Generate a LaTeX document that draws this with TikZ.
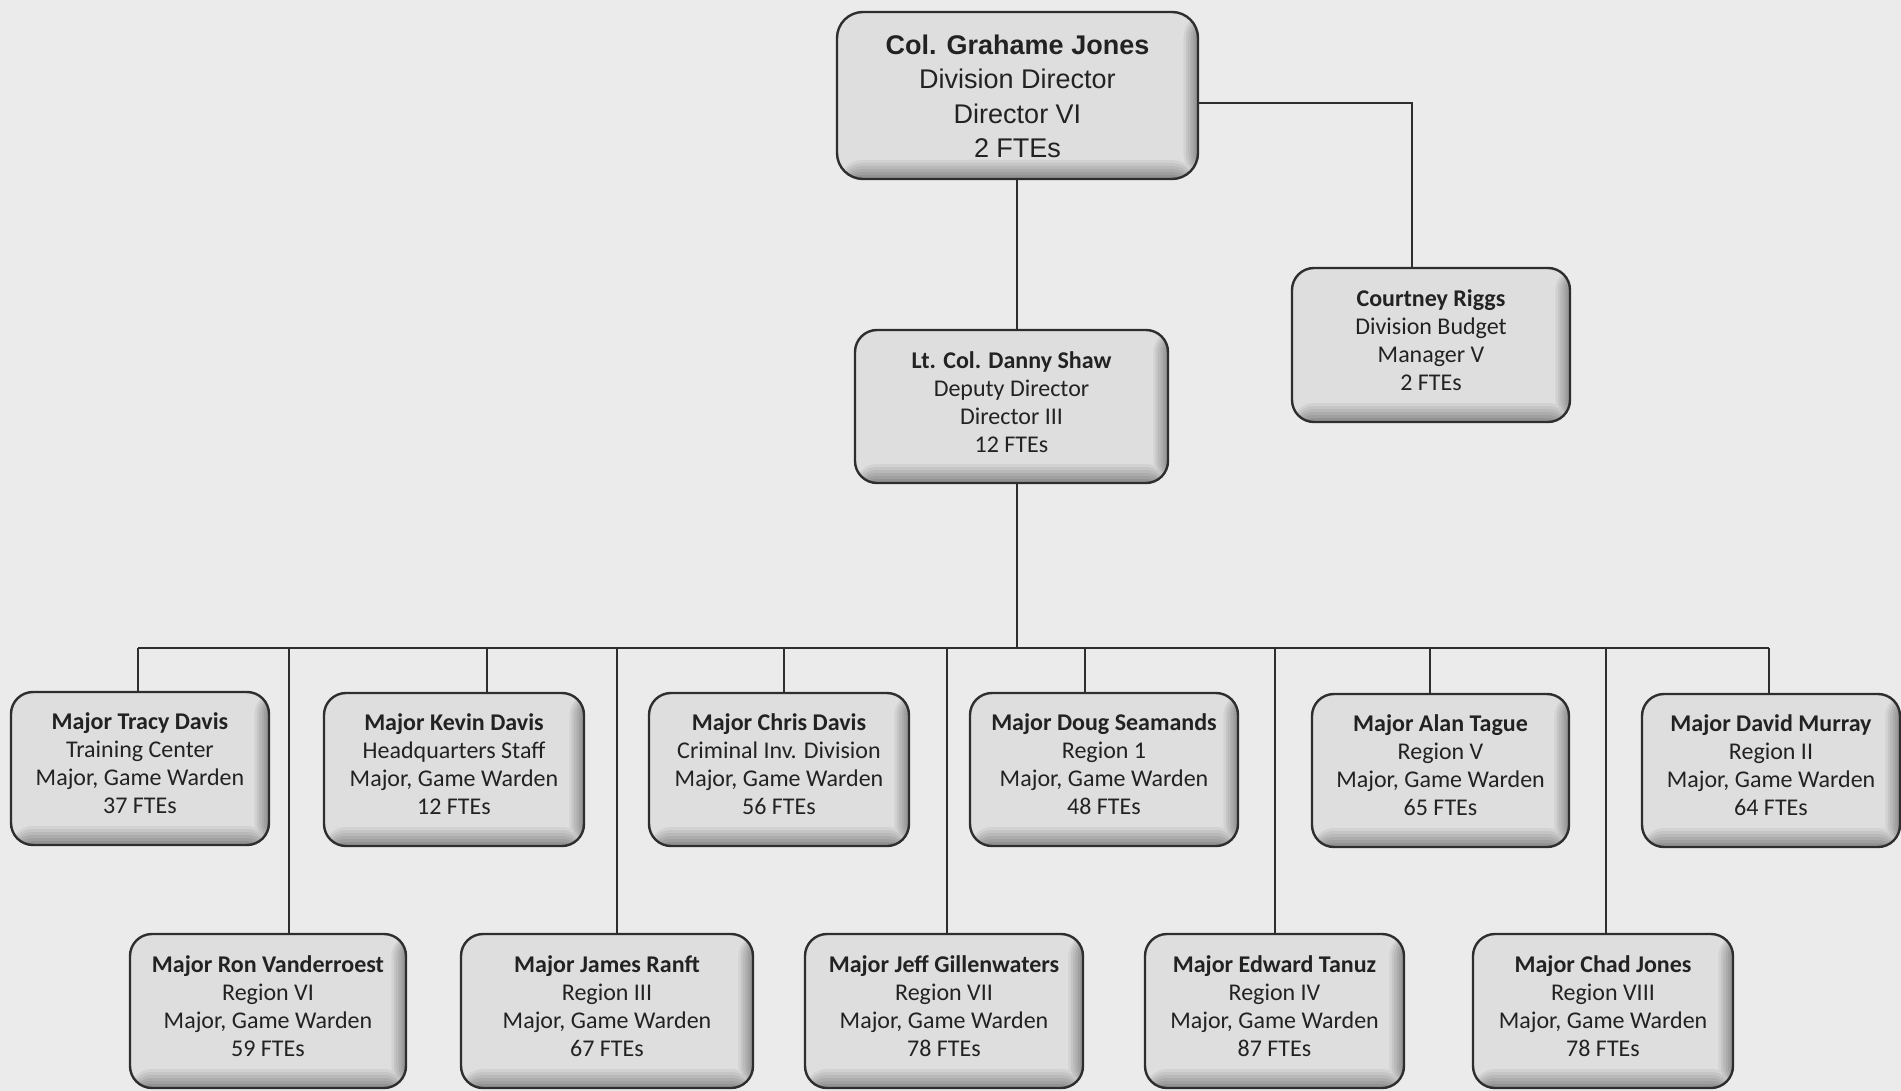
\documentclass[tikz,border=0pt]{standalone}
\usepackage{fontspec}
\setmainfont{Carlito}
\newfontfamily\arialfont{Liberation Sans}

\definecolor{bgcol}{HTML}{EBEBEB}
\definecolor{boxfill}{HTML}{DEDEDE}
\definecolor{bevel}{HTML}{858585}
\definecolor{linecol}{HTML}{2E2E2E}
\definecolor{txtcol}{HTML}{222222}

% four-line card text, nudged vertically without changing its box
\newcommand\cardtext[5]{\raisebox{#1}[\height][\depth]{\begin{tabular}{@{}c@{}}\textbf{#2}\\#3\\#4\\#5\end{tabular}}}

\tikzset{
  card/.style={draw=linecol, line width=2.4pt, fill=boxfill, rounded corners=22pt,
    minimum height=153pt, inner sep=0pt, text=txtcol,
    font=\fontsize{24}{28}\selectfont,
    path picture={
      % stepped bevel along the bottom and right edges
      \foreach \k [evaluate=\k as \p using int(14*\k),
                   evaluate=\k as \hb using 22-3*\k,
                   evaluate=\k as \wr using 17-2.4*\k] in {1,...,7} {
        \fill[bevel!\p!boxfill]
          ([xshift=-\wr pt]path picture bounding box.north east) rectangle
          (path picture bounding box.south east);
        \fill[bevel!\p!boxfill]
          ([yshift=\hb pt]path picture bounding box.south west) rectangle
          (path picture bounding box.south east);
      }
    }},
  link/.style={draw=linecol, line width=2pt},
}

\begin{document}
\begin{tikzpicture}[x=1pt,y=1pt]
\fill[bgcol] (0,0) rectangle (1901,-1091);
\useasboundingbox (0,0) rectangle (1901,-1091);

% director, deputy and budget manager
\node[card, minimum width=361pt, minimum height=167pt, rounded corners=26pt,
      font=\arialfont\fontsize{27}{34.5}\selectfont] (gj) at (1017.5,-95.5)
  {\cardtext{-3.5pt}{Col. Grahame Jones}{Division Director}{Director VI}{2 FTEs}};
\node[card, minimum width=313pt] (ds) at (1011.5,-406.5)
  {\cardtext{1.2pt}{Lt. Col. Danny Shaw}{Deputy Director}{Director III}{12 FTEs}};
\node[card, minimum width=278pt, minimum height=154pt] (cr) at (1431,-345)
  {\cardtext{2.4pt}{Courtney Riggs}{Division Budget}{Manager V}{2 FTEs}};

% first row of majors
\node[card, minimum width=258pt] (td) at (140,-768.5)
  {\cardtext{2.5pt}{Major Tracy Davis}{Training Center}{Major, Game Warden}{37 FTEs}};
\node[card, minimum width=260pt] (kd) at (454,-769.5)
  {\cardtext{2.5pt}{Major Kevin Davis}{Headquarters Staff}{Major, Game Warden}{12 FTEs}};
\node[card, minimum width=260pt] (cd) at (779,-769.5)
  {\cardtext{2.5pt}{Major Chris Davis}{Criminal Inv. Division}{Major, Game Warden}{56 FTEs}};
\node[card, minimum width=268pt] (dsm) at (1104,-769.5)
  {\cardtext{2.5pt}{Major Doug Seamands}{Region 1}{Major, Game Warden}{48 FTEs}};
\node[card, minimum width=257pt] (at) at (1440.5,-770.5)
  {\cardtext{2.5pt}{Major Alan Tague}{Region V}{Major, Game Warden}{65 FTEs}};
\node[card, minimum width=258pt] (dm) at (1771,-770.5)
  {\cardtext{2.5pt}{Major David Murray}{Region II}{Major, Game Warden}{64 FTEs}};

% second row of majors
\node[card, minimum width=276pt, minimum height=154pt] (rv) at (268,-1011)
  {\cardtext{2.4pt}{Major Ron Vanderroest}{Region VI}{Major, Game Warden}{59 FTEs}};
\node[card, minimum width=292pt, minimum height=154pt] (jr) at (607,-1011)
  {\cardtext{2.4pt}{Major James Ranft}{Region III}{Major, Game Warden}{67 FTEs}};
\node[card, minimum width=278pt, minimum height=154pt] (jg) at (944,-1011)
  {\cardtext{2.4pt}{Major Jeff Gillenwaters}{Region VII}{Major, Game Warden}{78 FTEs}};
\node[card, minimum width=259pt, minimum height=154pt] (et) at (1274.5,-1011)
  {\cardtext{2.4pt}{Major Edward Tanuz}{Region IV}{Major, Game Warden}{87 FTEs}};
\node[card, minimum width=260pt, minimum height=154pt] (cj) at (1603,-1011)
  {\cardtext{2.4pt}{Major Chad Jones}{Region VIII}{Major, Game Warden}{78 FTEs}};

% connectors from the top
\coordinate (crj) at (1412,-103);
\coordinate (bus) at (1017,-648);
\draw[link] (gj.south -| bus) -- (bus |- ds.north);
\draw[link] (gj.east |- crj) -- (crj) -- (crj |- cr.north);
\draw[link] (bus |- ds.south) -- (bus);

% bus taps for each major
\coordinate (b-td) at (138,-648);
\coordinate (b-rv) at (289,-648);
\coordinate (b-kd) at (487,-648);
\coordinate (b-jr) at (617,-648);
\coordinate (b-cd) at (784,-648);
\coordinate (b-jg) at (947,-648);
\coordinate (b-dsm) at (1085,-648);
\coordinate (b-et) at (1275,-648);
\coordinate (b-at) at (1430,-648);
\coordinate (b-cj) at (1606,-648);
\coordinate (b-dm) at (1769,-648);
\draw[link] (b-td) -- (b-dm);
\foreach \n in {td,rv,kd,jr,cd,jg,dsm,et,at,cj,dm}
  \draw[link] (b-\n) -- (b-\n |- \n.north);
\end{tikzpicture}
\end{document}
